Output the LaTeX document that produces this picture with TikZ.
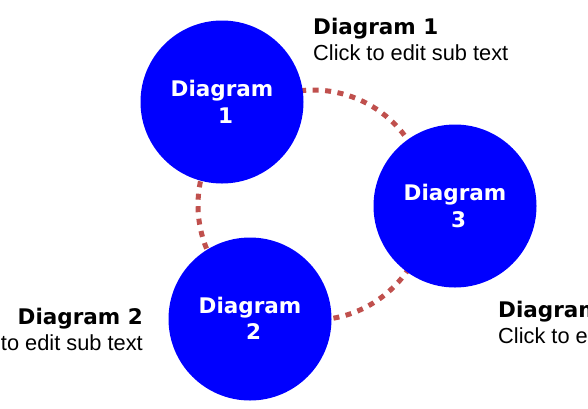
\documentclass[tikz,border=0pt]{standalone}
\usepackage{fontspec}
\setmainfont{Liberation Sans}
\newfontfamily\titlefont{DejaVu Sans}[BoldFont={DejaVu Sans Bold}]
\definecolor{ballblue}{HTML}{0000FF}
\definecolor{dotred}{HTML}{C0504D}
\begin{document}
\begin{tikzpicture}[x=1pt,y=-1pt,
  ball/.style={circle, fill=ballblue, draw=none, minimum size=163pt, inner sep=0pt},
  intext/.style={text=white, font=\titlefont\bfseries\fontsize{21.5}{26}\selectfont, inner sep=0pt, anchor=base},
  ttl/.style={text=black, font=\titlefont\bfseries\fontsize{21.5}{26}\selectfont, inner sep=0pt},
  sub/.style={text=black, font=\fontsize{21.8}{26}\selectfont, inner sep=0pt},
  dotarc/.style={draw=dotred, line width=5pt, dash pattern=on 6pt off 6.5pt}
]
\useasboundingbox (0,0) rectangle (588,408);
\clip (0,0) rectangle (588,408);
\fill[white] (0,0) rectangle (588,408);

% dotted ring behind the circles
\coordinate (ringc) at (313,205);
\draw[dotarc] (ringc) circle[radius=115pt];

% circles
\node[ball] (c1) at (222,102) {};
\node[ball] (c2) at (250,319) {};
\node[ball] (c3) at (455,206) {};

% circle texts
\node[intext] (c1a) at ([yshift=6pt]c1.center) {Diagram};
\node[intext] (c1b) at ([xshift=3.5pt,yshift=-21pt]c1.center) {1};
\node[intext] (c2a) at ([yshift=6pt]c2.center) {Diagram};
\node[intext] (c2b) at ([xshift=3.5pt,yshift=-20pt]c2.center) {2};
\node[intext] (c3a) at ([yshift=6pt]c3.center) {Diagram};
\node[intext] (c3b) at ([xshift=3.5pt,yshift=-21pt]c3.center) {3};

% side titles
\node[ttl, anchor=base west] (t1) at (313,34) {Diagram 1};
\node[sub, anchor=base west] (s1) at (313,60) {Click to edit sub text};
\node[ttl, anchor=base east] (t2) at (143,324) {Diagram 2};
\node[sub, anchor=base east] (s2) at (143,350) {Click to edit sub text};
\node[ttl, anchor=base west] (t3) at (498,317) {Diagram 3};
\node[sub, anchor=base west] (s3) at (498,343) {Click to edit sub text};
\end{tikzpicture}
\end{document}
